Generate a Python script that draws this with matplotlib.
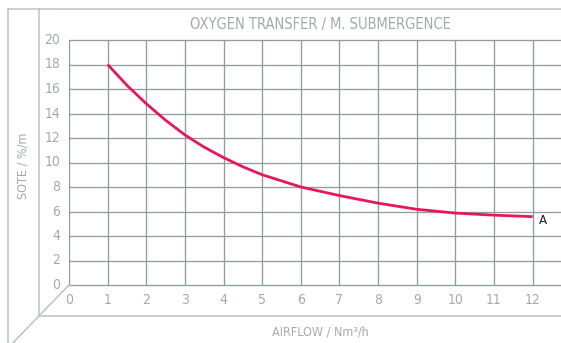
import numpy as np
import matplotlib
matplotlib.use("Agg")
from matplotlib import pyplot as plt
from matplotlib.lines import Line2D

plt.rcParams['font.family'] = ['DejaVu Sans']
plt.rcParams['font.stretch'] = 'condensed'

# data
airflow = [1, 1.5, 2, 2.5, 3, 3.5, 4, 4.5, 5, 6, 7, 8, 9, 10, 11, 12]
sote = [18.0, 16.3, 14.8, 13.45, 12.25, 11.25, 10.4, 9.65, 9.0, 8.0, 7.3,
        6.68, 6.18, 5.87, 5.7, 5.58]
x_ticks = list(range(0, 13))
y_ticks = list(range(0, 21, 2))

W, H = 561, 343
grid_col = "#8f9e99"
frame_col = "#bcc3c0"
text_col = "#a3aba8"
curve_col = "#e8175d"

fig = plt.figure(figsize=(W / 100, H / 100), dpi=100)

def fx(px):
    return px / W

def fy(py):
    return 1 - py / H

# plot area in pixels: left 69, right 561, top 40, bottom 285
ax = fig.add_axes([fx(69), fy(285), fx(561) - fx(69), fy(40) - fy(285)])
ax.set_xlim(0, (561 - 69) / 38.64)
ax.set_ylim(0, 20)
for s in ax.spines.values():
    s.set_visible(False)
ax.set_xticks([])
ax.set_yticks([])

for xv in x_ticks:
    ax.axvline(xv, color=grid_col, lw=0.95, zorder=1)
for yv in y_ticks:
    ax.axhline(yv, color=grid_col, lw=0.95, zorder=1, clip_on=False)

ax.plot(airflow, sote, color=curve_col, lw=2.0, zorder=3, solid_capstyle='butt',
        solid_joinstyle='round')
ax.text(airflow[-1] + 0.17, sote[-1] - 0.35, "A", color="#222222", fontsize=9.5,
        ha="left", va="center")

# tick labels
for yv in y_ticks:
    ax.text(-0.22, yv, str(yv), color=text_col, fontsize=10, ha="right", va="center")
for xv in x_ticks:
    ax.text(xv, -1.25, str(xv), color=text_col, fontsize=10, ha="center", va="center")

# frame (pseudo 3d box)
frame = [
    ((8, 9), (561, 9)),
    ((8, 9), (8, 343)),
    ((39, 9), (39, 316)),
    ((39, 316), (561, 316)),
    ((69, 285), (4, 352)),
]
for (x0, y0), (x1, y1) in frame:
    fig.add_artist(Line2D([fx(x0), fx(x1)], [fy(y0), fy(y1)], color=frame_col,
                          lw=1.1, transform=fig.transFigure))

fig.text(fx(320), fy(24.5), "OXYGEN TRANSFER / M. SUBMERGENCE", color=text_col,
         fontsize=10.5, ha="center", va="center")
fig.text(fx(23), fy(166), "SOTE / %/m", color=text_col, fontsize=9,
         rotation=90, ha="center", va="center")
fig.text(fx(320), fy(332), "AIRFLOW / Nm³/h", color=text_col, fontsize=9,
         ha="center", va="center")

fig.savefig("out.png", dpi=100, facecolor="white")
